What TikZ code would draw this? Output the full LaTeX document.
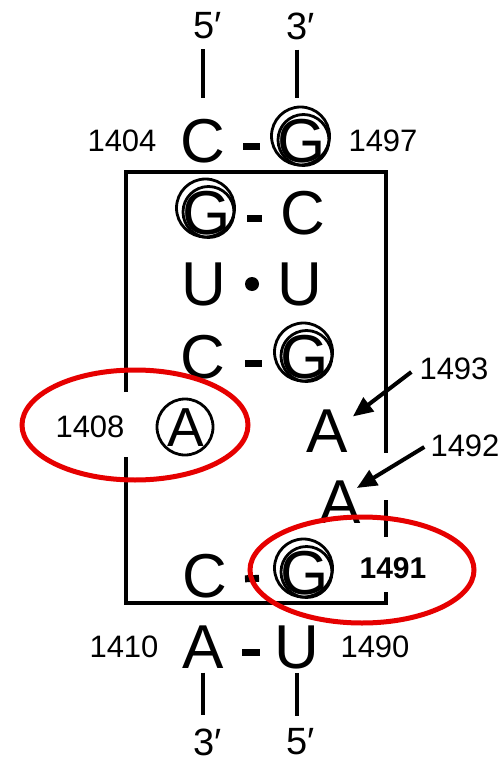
\documentclass[tikz,border=0pt]{standalone}
\usepackage{fontspec}
\setmainfont{Liberation Sans}
\usetikzlibrary{arrows.meta,calc}
\definecolor{markred}{RGB}{230,0,0}
% circled guanine: two slightly offset rings round a base node
\newcommand\gring[1]{%
  \draw[ring] ([shift={(-1.5,-5)}]#1.center) circle[radius=29pt];
  \draw[ring] ([shift={(1.5,-1)}]#1.center) circle[radius=25.5pt];}
\begin{document}
\begin{tikzpicture}[x=1pt,y=-1pt,
  base/.style={font=\fontsize{62}{62}\selectfont, inner sep=0pt},
  num/.style={font=\fontsize{31}{31}\selectfont, inner sep=0pt},
  endlab/.style={font=\fontsize{38}{38}\selectfont, inner sep=0pt, anchor=west},
  strand/.style={line width=4pt},
  bond/.style={line width=7pt},
  frame/.style={line width=4pt},
  ring/.style={line width=2.8pt},
  pointer/.style={line width=4pt, -{Triangle[length=20pt,width=17pt]}},
  highlight/.style={draw=markred, line width=5pt},
]
\useasboundingbox[fill=white] (0,0) rectangle (500,762);

% strand ends
\node[endlab] (t5) at (193,26) {5′};
\node[endlab] (t3) at (286,26) {3′};
\node[endlab] (b3) at (193,742) {3′};
\node[endlab] (b5) at (286,742) {5′};

% base pairs
\node[base] (c1404) at (203,141) {C};
\node[base] (g1497) at (302,141) {G};
\node[base] (g1405) at (207,213) {G};
\node[base] (c1496) at (303,213) {C};
\node[base] (u1406) at (204,284) {U};
\node[base] (u1495) at (300,284) {U};
\node[base] (c1407) at (203,357) {C};
\node[base] (g1494) at (305,357) {G};
\node[base, font=\fontsize{55}{55}\selectfont] (a1408) at (186,428) {A};
\node[base] (a1493) at (327,431) {A};
\node[base] (a1492) at (340,502) {A};
\node[base] (c1409) at (205,576) {C};
\node[base] (g1491) at (305,573) {G};
\node[base] (a1410) at (203,647) {A};
\node[base] (u1490) at (297,647) {U};

% rings
\gring{g1497}
\gring{g1405}
\gring{g1494}
\gring{g1491}
\draw[ring] ([shift={(-1,-1)}]a1408.center) circle[radius=28pt];

% numbering
\node[num] (n1404) at (122,141) {1404};
\node[num] (n1497) at (383,141) {1497};
\node[num] (n1408) at (90,427) {1408};
\node[num] (n1493) at (454,369) {1493};
\node[num] (n1492) at (465,446) {1492};
\node[num] (n1410) at (124,647) {1410};
\node[num] (n1490) at (375,647) {1490};

% backbone ends
\draw[strand, shorten <=10pt, shorten >=21pt] (c1404 |- t5.south) -- (c1404.north);
\draw[strand, shorten <=10pt, shorten >=21pt] ([xshift=-5pt]g1497 |- t3.south) -- ([xshift=-5pt]g1497.north);
\draw[strand, shorten <=4pt, shorten >=13pt] (a1410.south) -- (a1410 |- b3.north);
\draw[strand, shorten <=4pt, shorten >=13pt] (u1490.south) -- (u1490 |- b5.north);

% pairing bonds
\draw[bond, shorten <=40pt, shorten >=42pt] ([yshift=-6pt]c1404.center) -- ([yshift=-6pt]g1497.center);
\draw[bond, shorten <=40pt, shorten >=41pt] ([yshift=-5pt]g1405.center) -- ([yshift=-5pt]c1496.center);
\draw[bond, shorten <=42pt, shorten >=43pt] ([yshift=-6pt]c1407.center) -- ([yshift=-6pt]g1494.center);
\draw[bond, shorten <=40pt, shorten >=46pt] ([yshift=-4pt]c1409.center) -- ([yshift=-4pt]g1491.center);
\draw[bond, shorten <=39pt, shorten >=37pt] ([yshift=-5pt]a1410.center) -- ([yshift=-5pt]u1490.center);
\fill ($(u1406)!0.5!(u1495)$) circle[radius=7pt];

% internal loop frame
\draw[frame] (126,392) -- (126,172) -- (386,172) -- (386,453);
\draw[frame] (386,500) -- (386,537);
\draw[frame] (126,457) -- (126,603) -- (386,603) -- (386,592);

% pointers to the bulged adenines
\draw[pointer] ([shift={(-8,3)}]n1493.west) -- ([shift={(5,7)}]a1493.north east);
\draw[pointer] ([shift={(-6,1)}]n1492.west) -- ([shift={(-4,-14)}]a1492.east);

% highlighted residues
\node[font=\bfseries\fontsize{30}{30}\selectfont, inner sep=0pt] (n1491) at (393,568) {1491};
\draw[highlight] (135,425) ellipse[x radius=113pt, y radius=55pt];
\draw[highlight] (362,570) ellipse[x radius=112pt, y radius=53pt];
\end{tikzpicture}
\end{document}
